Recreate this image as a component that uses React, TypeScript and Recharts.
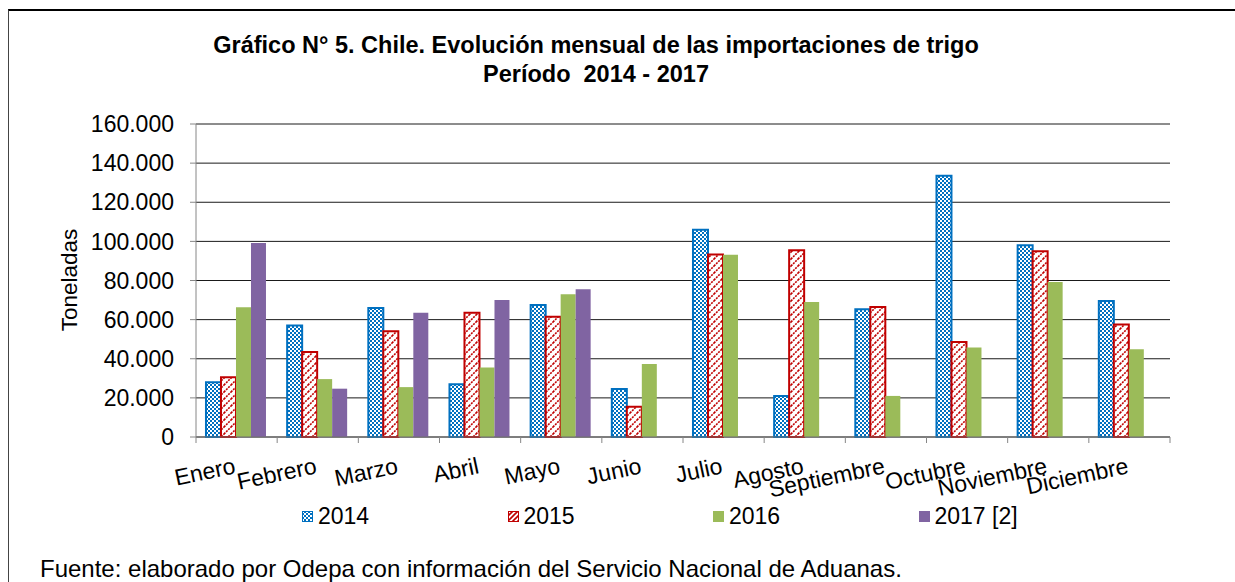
import React from 'react';
import { BarChart, Bar, XAxis, YAxis, CartesianGrid } from 'recharts';

const months = ['Enero', 'Febrero', 'Marzo', 'Abril', 'Mayo', 'Junio', 'Julio', 'Agosto', 'Septiembre', 'Octubre', 'Noviembre', 'Diciembre'];
const imp2014 = [28000, 57000, 66000, 27000, 67500, 24500, 106000, 21000, 65300, 133500, 98000, 69500];
const imp2015 = [30500, 43500, 54000, 63500, 61500, 15500, 93300, 95500, 66500, 48500, 95000, 57500];
const imp2016 = [66300, 29600, 25500, 35500, 73000, 37300, 93200, 69000, 21000, 45800, 79200, 44800];
const imp2017 = [99200, 24700, 63500, 70000, 75500, null, null, null, null, null, null, null];
const yTicks = [0, 20000, 40000, 60000, 80000, 100000, 120000, 140000, 160000];

const series = [
  { key: 'y2014', name: '2014', fill: 'url(#p2014)', stroke: '#0070C0', legend: 'url(#p2014)' },
  { key: 'y2015', name: '2015', fill: 'url(#p2015)', stroke: '#C00000', legend: 'url(#p2015)' },
  { key: 'y2016', name: '2016', fill: '#9BBB59', stroke: 'none', legend: '#9BBB59' },
  { key: 'y2017', name: '2017 [2]', fill: '#8064A2', stroke: 'none', legend: '#8064A2' },
];

const data = months.map((m, i) => ({
  month: m,
  y2014: imp2014[i],
  y2015: imp2015[i],
  y2016: imp2016[i],
  y2017: imp2017[i],
}));

const FONT = 'Arial, "Liberation Sans", sans-serif';

const fmt = (v: number) => (v === 0 ? '0' : v.toLocaleString('de-DE'));

const MonthTick = (props: any) => {
  const { x, y, payload, index, width } = props;
  const half = payload && payload.offset ? payload.offset : (width || 974) / 24;
  const ty = y + 36;
  return (
    <g>
      <line x1={x - half} y1={y} x2={x - half} y2={y + 6} stroke="#868686" />
      {index === months.length - 1 && (
        <line x1={x + half} y1={y} x2={x + half} y2={y + 6} stroke="#868686" />
      )}
      <text x={x} y={ty} textAnchor="end" fontSize={23} fontFamily={FONT} fill="#000" transform={`rotate(-12, ${x}, ${ty})`}>
        {payload.value}
      </text>
    </g>
  );
};

const LegendSwatch = ({ fill, stroke }: { fill: string; stroke: string }) => (
  <svg width={11} height={11} style={{ marginRight: 5 }}>
    <defs>
      <pattern id="lp2014" width="4" height="4" patternUnits="userSpaceOnUse">
        <rect width="4" height="4" fill="#0070C0" />
        <rect width="2" height="2" fill="#fff" />
        <rect x="2" y="2" width="2" height="2" fill="#fff" />
      </pattern>
      <pattern id="lp2015" width="5" height="5" patternUnits="userSpaceOnUse">
        <rect width="5" height="5" fill="#fff" />
        <path d="M-1,1 L1,-1 M0,5 L5,0 M4,6 L6,4" stroke="#C00000" strokeWidth="1.6" />
      </pattern>
    </defs>
    <rect x={0.5} y={0.5} width={10} height={10} fill={fill.replace('#p', '#lp')} stroke={stroke === 'none' ? fill : stroke} />
  </svg>
);

export default function App() {
  return (
    <div style={{ position: 'fixed', left: 0, top: 0, width: 1235, height: 582, background: '#fff', fontFamily: FONT, overflow: 'hidden' }}>
      <div style={{ position: 'absolute', left: 8, top: 9, width: 1240, height: 600, borderTop: '2px solid #000', borderLeft: '1px solid #444' }} />
      <div style={{ position: 'absolute', left: 0, width: 1192, top: 31, textAlign: 'center', fontWeight: 'bold', fontSize: 23.5, lineHeight: '29px', color: '#000' }}>
        Gráfico N° 5. Chile. Evolución mensual de las importaciones de trigo
        <br />
        Período&nbsp; 2014 - 2017
      </div>
      <div style={{ position: 'absolute', left: 70, top: 280, transform: 'translate(-50%, -50%) rotate(-90deg)', fontSize: 22.5, whiteSpace: 'nowrap' }}>
        Toneladas
      </div>
      <div style={{ position: 'absolute', left: 0, top: 0 }}>
        <BarChart width={1235} height={582} data={data} margin={{ top: 124, right: 65, left: 96, bottom: 105 }} barCategoryGap="12.3%" barGap={0}>
          <defs>
            <pattern id="p2014" width="4" height="4" patternUnits="userSpaceOnUse">
              <rect width="4" height="4" fill="#0070C0" />
              <rect width="2" height="2" fill="#fff" />
              <rect x="2" y="2" width="2" height="2" fill="#fff" />
            </pattern>
            <pattern id="p2015" width="7" height="7" patternUnits="userSpaceOnUse">
              <rect width="7" height="7" fill="#fff" />
              <path d="M-1,1 L1,-1 M0,7 L7,0 M6,8 L8,6" stroke="#C00000" strokeWidth="1.6" strokeDasharray="2 1" />
            </pattern>
          </defs>
          <CartesianGrid vertical={false} stroke="#1a1a1a" />
          <XAxis dataKey="month" height={40} tick={<MonthTick />} tickLine={false} tickSize={0} tickMargin={0} axisLine={{ stroke: '#6e6e6e' }} interval={0} />
          <YAxis width={100} domain={[0, 160000]} ticks={yTicks} tickFormatter={fmt} axisLine={{ stroke: '#868686' }} tickLine={{ stroke: '#868686' }} tickSize={6} tickMargin={16} tick={{ fill: '#000', fontSize: 23, fontFamily: FONT }} />
          {series.map((s) => (
            <Bar key={s.key} dataKey={s.key} name={s.name} fill={s.fill} stroke={s.stroke} strokeWidth={s.stroke === 'none' ? 0 : 2} isAnimationActive={false} />
          ))}
        </BarChart>
      </div>
      {series.map((s, i) => (
        <div key={s.key} style={{ position: 'absolute', left: 302 + i * 205.5, top: 503, display: 'flex', alignItems: 'center', fontSize: 23, color: '#000', whiteSpace: 'nowrap' }}>
          <LegendSwatch fill={s.legend} stroke={s.stroke} />
          {s.name}
        </div>
      ))}
      <div style={{ position: 'absolute', left: 40, top: 555, fontSize: 24, color: '#000', whiteSpace: 'nowrap' }}>
        Fuente: elaborado por Odepa con información del Servicio Nacional de Aduanas.
      </div>
    </div>
  );
}
